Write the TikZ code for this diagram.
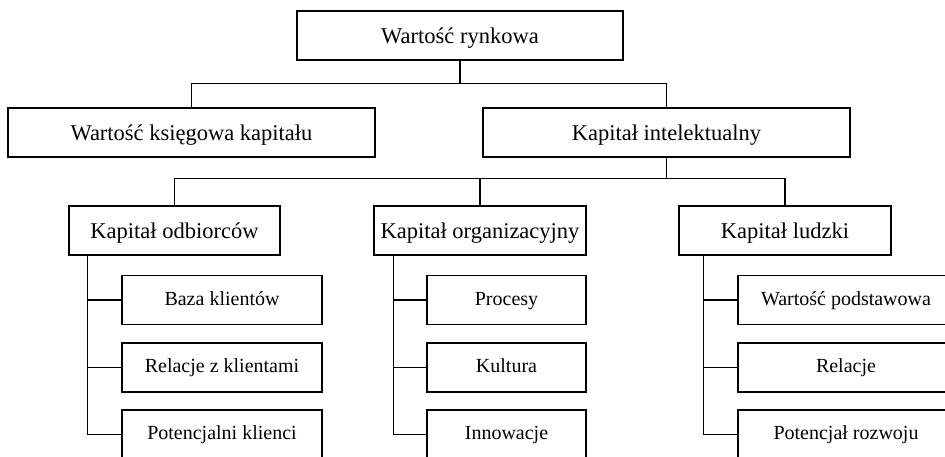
\documentclass[tikz,border=0pt]{standalone}
\usepackage{fontspec}
\setmainfont{Liberation Serif}
\usetikzlibrary{calc}
\begin{document}
\begin{tikzpicture}[x=1pt,y=-1pt,
  line width=1.2pt,
  box/.style={draw, inner sep=0pt, minimum height=49pt,
    text height=20pt, text depth=5pt,
    font=\fontsize{22.5}{26}\selectfont},
  leaf/.style={box, text height=15pt, text depth=5pt,
    font=\fontsize{20}{24}\selectfont},
  link/.style={draw, line width=1.2pt}]
\useasboundingbox (0,0) rectangle (945,456);
\clip (0,0) rectangle (945,456);

% level 0 and 1
\node[box, minimum width=326pt] (top)   at (460,35.5)   {Wartość rynkowa};
\node[box, minimum width=367pt] (ksieg) at (191.5,132.5) {Wartość księgowa kapitału};
\node[box, minimum width=367pt] (intel) at (666.5,132.5) {Kapitał intelektualny};

% level 2
\node[box, minimum width=211pt] (odb) at (174.5,230.5) {Kapitał odbiorców};
\node[box, minimum width=212pt] (org) at (480,230.5)   {Kapitał organizacyjny};
\node[box, minimum width=212pt] (ludz) at (785,230.5)  {Kapitał ludzki};

% level 3
\node[leaf, minimum width=200pt] (a1) at (222,300)   {Baza klientów};
\node[leaf, minimum width=200pt] (a2) at (222,367.5) {Relacje z klientami};
\node[leaf, minimum width=200pt] (a3) at (222,434.5) {Potencjalni klienci};

\node[leaf, minimum width=159pt] (b1) at (506.5,300)   {Procesy};
\node[leaf, minimum width=159pt] (b2) at (506.5,367.5) {Kultura};
\node[leaf, minimum width=159pt] (b3) at (506.5,434.5) {Innowacje};

\node[leaf, minimum width=216pt] (c1) at (846,300)   {Wartość podstawowa};
\node[leaf, minimum width=216pt] (c2) at (846,367.5) {Relacje};
\node[leaf, minimum width=216pt] (c3) at (846,434.5) {Potencjał rozwoju};

% connectors, top levels
\path (top.south) ++(0,23) coordinate (j1);
\draw[link] (top.south) -- (j1);
\draw[link] (ksieg.north) |- (j1) -| (intel.north);

\path (intel.south) ++(0,21) coordinate (j2);
\draw[link] (intel.south) -- (j2);
\draw[link] (odb.north) |- (j2) -| (ludz.north);
\draw[link] (org.north) -- (org.north |- j2);

% trunks to leaves
\coordinate (ta) at ($(odb.south west)+(19,0)$);
\coordinate (tb) at ($(org.south west)+(20,0)$);
\coordinate (tc) at ($(ludz.south west)+(25,0)$);

\draw[link] (ta) |- (a3.west);
\draw[link] (a1.west) -- (a1.west -| ta);
\draw[link] (a2.west) -- (a2.west -| ta);

\draw[link] (tb) |- (b3.west);
\draw[link] (b1.west) -- (b1.west -| tb);
\draw[link] (b2.west) -- (b2.west -| tb);

\draw[link] (tc) |- (c3.west);
\draw[link] (c1.west) -- (c1.west -| tc);
\draw[link] (c2.west) -- (c2.west -| tc);
\end{tikzpicture}
\end{document}
